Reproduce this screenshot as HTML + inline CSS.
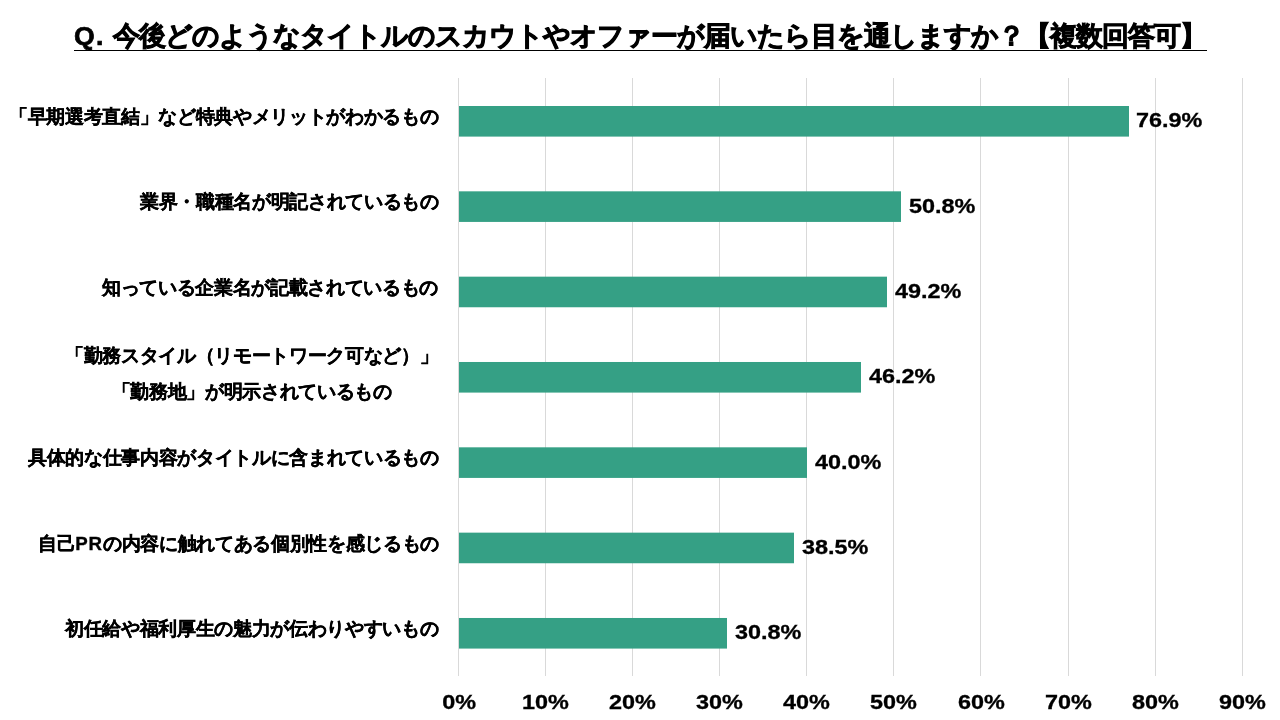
<!DOCTYPE html>
<html lang="ja"><head><meta charset="utf-8"><title>スカウトやオファーのタイトル</title><style>
html,body{margin:0;padding:0;background:#fff;}
body{width:1280px;height:720px;position:relative;overflow:hidden;font-family:"Liberation Sans",sans-serif;font-weight:bold;color:#000;}
.t{position:absolute;white-space:nowrap;}
.t,.cat,.num,.ax{will-change:transform;}
.title{left:74px;top:21px;font-size:26.67px;line-height:30px;letter-spacing:-1px;-webkit-text-stroke:0.9px #000;}
.title .q{letter-spacing:1.2px;-webkit-text-stroke:0.7px #000;}
.uline{position:absolute;left:74px;top:50px;width:1133px;height:1px;background:#000;}
.cat{position:absolute;right:841.5px;font-size:18.67px;line-height:20px;letter-spacing:-0.33px;text-align:right;white-space:nowrap;-webkit-text-stroke:0.35px #000;}
.cat2{text-align:center;line-height:35.5px;}
.num{position:absolute;font-size:19.5px;line-height:20px;transform-origin:0 50%;transform:scaleX(1.2);-webkit-text-stroke:0.3px #000;}
.ax{position:absolute;font-size:19.5px;line-height:20px;width:100px;text-align:center;}
.ax span{display:inline-block;transform:scaleX(1.2);-webkit-text-stroke:0.3px #000;}
svg{position:absolute;left:0;top:0;}
</style></head><body>

<svg width="1280" height="720" viewBox="0 0 1280 720"><rect x="458" y="78" width="1" height="598" fill="#d9d9d9"/><rect x="545" y="78" width="1" height="598" fill="#d9d9d9"/><rect x="632" y="78" width="1" height="598" fill="#d9d9d9"/><rect x="719" y="78" width="1" height="598" fill="#d9d9d9"/><rect x="806" y="78" width="1" height="598" fill="#d9d9d9"/><rect x="893" y="78" width="1" height="598" fill="#d9d9d9"/><rect x="980" y="78" width="1" height="598" fill="#d9d9d9"/><rect x="1068" y="78" width="1" height="598" fill="#d9d9d9"/><rect x="1155" y="78" width="1" height="598" fill="#d9d9d9"/><rect x="1242" y="78" width="1" height="598" fill="#d9d9d9"/><rect x="459" y="106.00" width="670" height="30.6" fill="#35a085"/><rect x="459" y="191.33" width="442" height="30.6" fill="#35a085"/><rect x="459" y="276.66" width="428" height="30.6" fill="#35a085"/><rect x="459" y="361.99" width="402" height="30.6" fill="#35a085"/><rect x="459" y="447.32" width="348" height="30.6" fill="#35a085"/><rect x="459" y="532.65" width="335" height="30.6" fill="#35a085"/><rect x="459" y="617.98" width="268" height="30.6" fill="#35a085"/></svg>
<div class="t title"><span class="q">Q. </span>今後どのようなタイトルのスカウトやオファーが届いたら目を通しますか？【複数回答可】</div>
<div class="uline"></div>
<div class="cat" style="top:107px">「早期選考直結」など特典やメリットがわかるもの</div>
<div class="cat" style="top:192px">業界・職種名が明記されているもの</div>
<div class="cat" style="top:278px">知っている企業名が記載されているもの</div>
<div class="cat cat2" style="top:337.5px">「勤務スタイル（リモートワーク可など）」<br>「勤務地」が明示されているもの</div>
<div class="cat" style="top:448px">具体的な仕事内容がタイトルに含まれているもの</div>
<div class="cat" style="top:534px">自己<span style="letter-spacing:0.8px">PR</span>の内容に触れてある個別性を感じるもの</div>
<div class="cat" style="top:619px">初任給や福利厚生の魅力が伝わりやすいもの</div>
<div class="num" style="left:1135.5px;top:110.3px">76.9%</div>
<div class="num" style="left:908.5px;top:195.6px">50.8%</div>
<div class="num" style="left:894.5px;top:281.0px">49.2%</div>
<div class="num" style="left:868.5px;top:366.3px">46.2%</div>
<div class="num" style="left:814.5px;top:451.6px">40.0%</div>
<div class="num" style="left:801.5px;top:536.9px">38.5%</div>
<div class="num" style="left:734.5px;top:622.3px">30.8%</div>
<div class="ax" style="left:409.0px;top:692px"><span>0%</span></div>
<div class="ax" style="left:496.1px;top:692px"><span>10%</span></div>
<div class="ax" style="left:583.2px;top:692px"><span>20%</span></div>
<div class="ax" style="left:670.2px;top:692px"><span>30%</span></div>
<div class="ax" style="left:757.3px;top:692px"><span>40%</span></div>
<div class="ax" style="left:844.4px;top:692px"><span>50%</span></div>
<div class="ax" style="left:931.5px;top:692px"><span>60%</span></div>
<div class="ax" style="left:1018.6px;top:692px"><span>70%</span></div>
<div class="ax" style="left:1105.6px;top:692px"><span>80%</span></div>
<div class="ax" style="left:1192.7px;top:692px"><span>90%</span></div>
</body></html>
